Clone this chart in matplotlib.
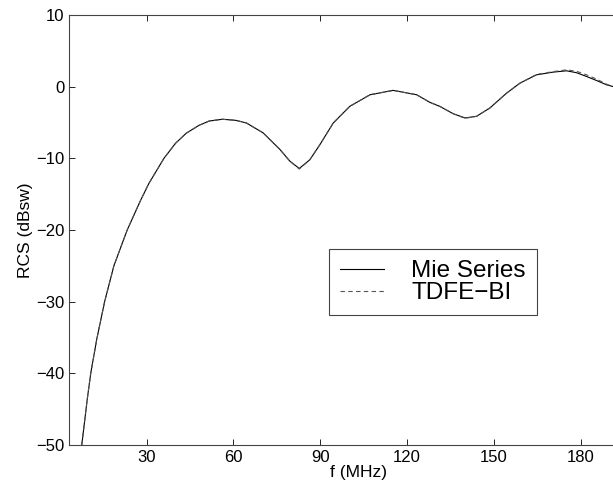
import matplotlib.pyplot as plt

plt.rcParams['font.family'] = ['Liberation Sans', 'DejaVu Sans']

# frequency (MHz) and RCS (dBsw)
freq = [7.6, 9.5, 10.7, 12.8, 15.5, 18.7, 23.3, 28.0, 30.8, 36.0, 40.0, 43.7,
        48.1, 51.6, 56.2, 60.8, 64.5, 70.3, 76.1, 79.5, 82.75, 86.4, 89.9,
        94.5, 100.2, 107.2, 115.2, 123.3, 127.9, 131.3, 135.9, 140.0, 144.0,
        148.6, 154.4, 159.0, 164.7, 170.5, 175.1, 178.5, 182.0, 185.5, 188.9, 191.0]
mie = [-50, -43.6, -40, -35.2, -30, -25.0, -20, -15.8, -13.5, -10, -7.9, -6.5,
       -5.4, -4.8, -4.55, -4.7, -5.07, -6.46, -8.78, -10.4, -11.42, -10.2, -8.08,
       -5.07, -2.75, -1.13, -0.52, -1.13, -2.2, -2.75, -3.77, -4.37, -4.14,
       -2.98, -0.9, 0.49, 1.65, 2.03, 2.21, 1.95, 1.42, 0.85, 0.26, 0.03]
tdfe = [-50, -43.6, -40, -35.2, -30, -25.0, -20, -15.8, -13.5, -10, -7.9, -6.5,
        -5.4, -4.8, -4.55, -4.7, -5.07, -6.46, -8.78, -10.4, -11.5, -10.2, -8.08,
        -5.07, -2.75, -1.13, -0.52, -1.13, -2.2, -2.75, -3.77, -4.42, -4.14,
        -2.98, -0.9, 0.49, 1.7, 2.1, 2.35, 2.15, 1.65, 1.05, 0.35, 0.03]

fig = plt.figure(figsize=(6.13, 4.91), dpi=100)
# axes run a little past the right edge, as in the cropped original
ax = fig.add_axes([0.1126, 0.0937, 0.9429, 0.8758])

ax.plot(freq, mie, color='black', lw=0.8, label='Mie Series')
ax.plot(freq, tdfe, color='#555555', lw=0.8, ls=(0, (4, 3)), label='TDFE\u2212BI')

ax.set_xlim(3.2, 202.9)
ax.set_ylim(-50, 10)
ax.set_xticks([30, 60, 90, 120, 150, 180])
ax.set_yticks([-50, -40, -30, -20, -10, 0, 10])
ax.set_yticklabels(['\u221250', '\u221240', '\u221230', '\u221220', '\u221210', '0', '10'])
ax.tick_params(direction='in', top=True, right=True, labelsize=12, length=4, width=0.6)
for s in ax.spines.values():
    s.set_color('#444444')
    s.set_linewidth(0.8)

ax.set_xlabel('f (MHz)', fontsize=12.5, labelpad=0)
ax.set_ylabel('RCS (dBsw)', fontsize=12.5, labelpad=2)

leg = ax.legend(loc='center', bbox_to_anchor=(0.6295, 0.379), fontsize=17.5,
                handlelength=1.8, handletextpad=1.15, borderpad=0.45,
                labelspacing=0.0, fancybox=False, framealpha=1)
leg.get_frame().set_edgecolor('#444444')
leg.get_frame().set_linewidth(0.8)

fig.savefig('out.png')
